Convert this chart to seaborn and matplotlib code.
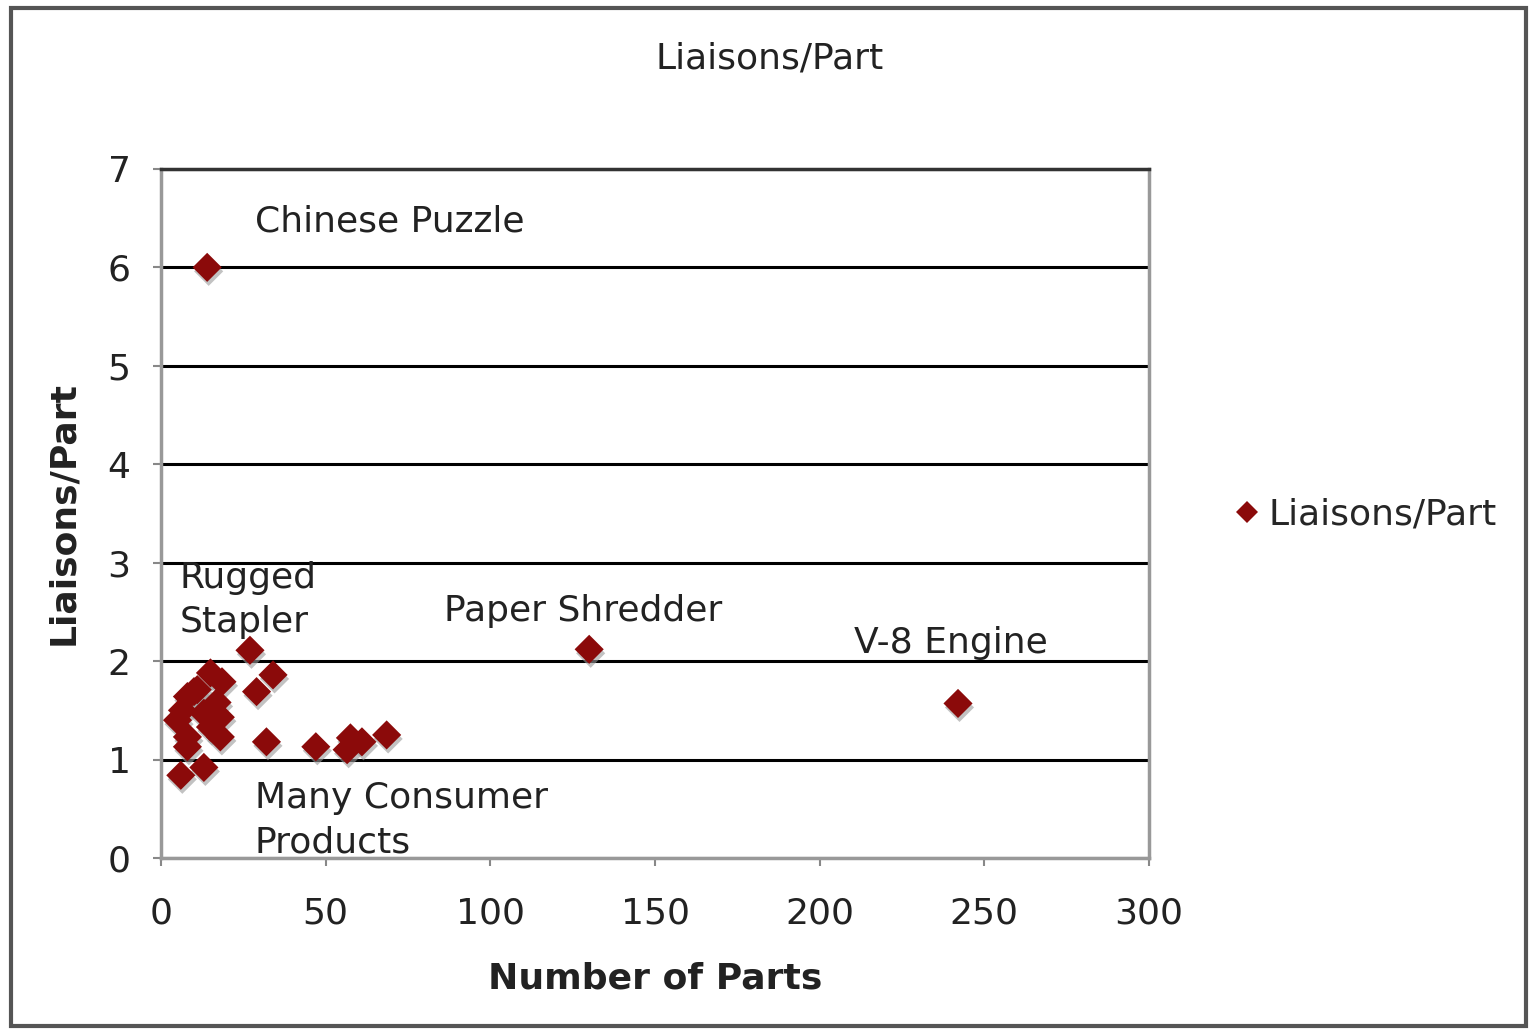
import matplotlib
matplotlib.use("Agg")
import matplotlib.pyplot as plt
import matplotlib.transforms as mtransforms
from matplotlib.patches import Rectangle
from matplotlib.lines import Line2D
import seaborn as sns
import pandas as pd

# Number of parts vs. liaisons per part for a set of assembled products
num_parts = [14, 130, 242, 27, 34, 29, 32, 47, 56.5, 57.5, 61, 68.5,
             6, 13, 5, 8, 10, 8, 8, 15, 18.5, 18, 18, 13, 17, 6.5, 11, 15]
liaisons_per_part = [6.0, 2.12, 1.57, 2.11, 1.86, 1.69, 1.18, 1.13, 1.10, 1.22, 1.18, 1.25,
                     0.84, 0.92, 1.40, 1.64, 1.69, 1.23, 1.13, 1.88, 1.79, 1.43, 1.23, 1.47,
                     1.58, 1.50, 1.71, 1.33]

labels = ["Chinese Puzzle", "Rugged\nStapler", "Paper Shredder", "V-8 Engine",
          "Many Consumer\nProducts"]
label_x = [28.5, 5.5, 86, 210.5, 28.5]
label_y = [6.47, 2.62, 2.51, 2.18, 0.38]

x_ticks = [0, 50, 100, 150, 200, 250, 300]
y_ticks = [0, 1, 2, 3, 4, 5, 6, 7]

df = pd.DataFrame({"Number of Parts": num_parts, "Liaisons/Part": liaisons_per_part})

sns.set_style("white")
plt.rcParams["font.family"] = ["DejaVu Sans"]

fig = plt.figure(figsize=(15.31, 10.30), dpi=100)
ax = fig.add_axes([0.1052, 0.167, 0.6453, 0.669])

marker_color = "#8B0A0A"

# soft drop shadow under each diamond
shadow = ax.transData + mtransforms.ScaledTranslation(1.5 / 100, -4 / 100, fig.dpi_scale_trans)
sns.scatterplot(data=df, x="Number of Parts", y="Liaisons/Part", ax=ax, marker="D",
                s=220, color="#9a9a9a", edgecolor="none", alpha=0.6,
                transform=shadow, legend=False, zorder=3)
sns.scatterplot(data=df, x="Number of Parts", y="Liaisons/Part", ax=ax, marker="D",
                s=220, color=marker_color, edgecolor="none", legend=False, zorder=4)

ax.set_xlim(0, 300)
ax.set_ylim(0, 7)
ax.set_xticks(x_ticks)
ax.set_yticks(y_ticks)
ax.tick_params(axis="both", labelsize=26, length=6, width=1.5, color="#888888",
               direction="out", bottom=True, left=True, labelcolor="#222222")
ax.tick_params(axis="x", pad=22)
ax.tick_params(axis="y", pad=16)
ax.yaxis.grid(True, color="black", linewidth=2.2)
ax.xaxis.grid(False)
ax.set_axisbelow(True)
for side in ["left", "bottom", "right"]:
    ax.spines[side].set_color("#999999")
    ax.spines[side].set_linewidth(2.5)
ax.spines["top"].set_color("#333333")
ax.spines["top"].set_linewidth(2.5)

ax.set_xlabel("Number of Parts", fontsize=26, fontweight="bold", labelpad=22,
              color="#222222")
ax.set_ylabel("Liaisons/Part", fontsize=26, fontweight="bold", labelpad=20,
              color="#222222")

for text, lx, ly in zip(labels, label_x, label_y):
    ax.text(lx, ly, text, fontsize=26, color="#222222", ha="left", va="center",
            linespacing=1.38, zorder=5)

fig.text(0.503, 0.943, "Liaisons/Part", fontsize=26, ha="center", va="center",
         color="#222222")

# legend on the right
handle = Line2D([], [], marker="D", linestyle="none", markersize=11,
                color=marker_color, markeredgewidth=0)
fig.legend([handle], ["Liaisons/Part"], loc="center left",
           bbox_to_anchor=(0.785, 0.5), frameon=False, fontsize=26,
           handletextpad=0.25, handlelength=0.7)

# outer chart border
fig.patches.append(Rectangle((0.0075, 0.004), 0.989, 0.988, transform=fig.transFigure,
                             fill=False, edgecolor="#555555", linewidth=3))

fig.savefig("out.png", dpi=100, facecolor="white")
